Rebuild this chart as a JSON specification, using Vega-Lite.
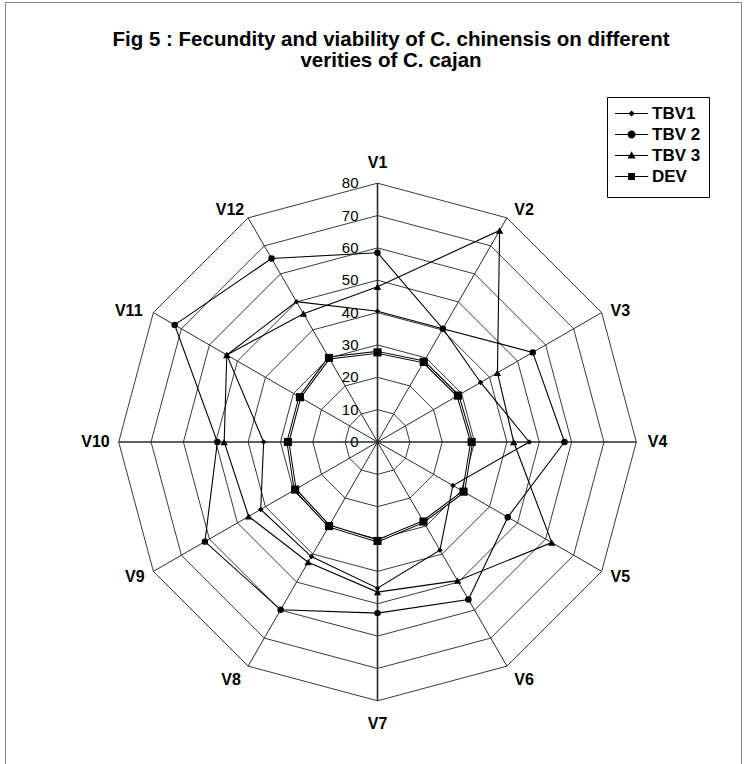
{
  "$schema": "https://vega.github.io/schema/vega-lite/v6.json",
  "width": 736,
  "height": 762,
  "autosize": {"type": "none"},
  "padding": {"left": 5, "top": 2, "right": 7, "bottom": 0},
  "background": "white",
  "config": {"view": {"stroke": "#888", "strokeWidth": 1}, "font": "Liberation Sans"},
  "title": {
    "text": ["Fig 5 : Fecundity and viability of C. chinensis on different", "verities of C. cajan"],
    "font": "Liberation Sans",
    "fontSize": 20.5,
    "fontWeight": "bold",
    "color": "black",
    "anchor": "middle",
    "offset": -69,
    "dx": 18,
    "lineHeight": 21
  },
  "datasets": {
    "series": [
      {"s": "TBV1", "axis": "V1", "v": 40.4}, {"s": "TBV1", "axis": "V2", "v": 40.4}, {"s": "TBV1", "axis": "V3", "v": 36.8}, {"s": "TBV1", "axis": "V4", "v": 46.9},
      {"s": "TBV1", "axis": "V5", "v": 26.9}, {"s": "TBV1", "axis": "V6", "v": 38.6}, {"s": "TBV1", "axis": "V7", "v": 45.2}, {"s": "TBV1", "axis": "V8", "v": 40.9},
      {"s": "TBV1", "axis": "V9", "v": 41.7}, {"s": "TBV1", "axis": "V10", "v": 35.2}, {"s": "TBV1", "axis": "V11", "v": 53.8}, {"s": "TBV1", "axis": "V12", "v": 50.1},
      {"s": "TBV 2", "axis": "V1", "v": 58.5}, {"s": "TBV 2", "axis": "V2", "v": 40.4}, {"s": "TBV 2", "axis": "V3", "v": 55.4}, {"s": "TBV 2", "axis": "V4", "v": 57.8},
      {"s": "TBV 2", "axis": "V5", "v": 46.5}, {"s": "TBV 2", "axis": "V6", "v": 56.2}, {"s": "TBV 2", "axis": "V7", "v": 52.9}, {"s": "TBV 2", "axis": "V8", "v": 59.9},
      {"s": "TBV 2", "axis": "V9", "v": 61.6}, {"s": "TBV 2", "axis": "V10", "v": 49.5}, {"s": "TBV 2", "axis": "V11", "v": 72.4}, {"s": "TBV 2", "axis": "V12", "v": 65.5},
      {"s": "TBV 3", "axis": "V1", "v": 48.0}, {"s": "TBV 3", "axis": "V2", "v": 75.5}, {"s": "TBV 3", "axis": "V3", "v": 42.8}, {"s": "TBV 3", "axis": "V4", "v": 42.1},
      {"s": "TBV 3", "axis": "V5", "v": 62.2}, {"s": "TBV 3", "axis": "V6", "v": 49.5}, {"s": "TBV 3", "axis": "V7", "v": 46.4}, {"s": "TBV 3", "axis": "V8", "v": 42.9},
      {"s": "TBV 3", "axis": "V9", "v": 46.0}, {"s": "TBV 3", "axis": "V10", "v": 47.4}, {"s": "TBV 3", "axis": "V11", "v": 53.8}, {"s": "TBV 3", "axis": "V12", "v": 45.8},
      {"s": "DEV", "axis": "V1", "v": 27.7}, {"s": "DEV", "axis": "V2", "v": 28.6}, {"s": "DEV", "axis": "V3", "v": 28.7}, {"s": "DEV", "axis": "V4", "v": 29.1},
      {"s": "DEV", "axis": "V5", "v": 30.7}, {"s": "DEV", "axis": "V6", "v": 28.4}, {"s": "DEV", "axis": "V7", "v": 30.6}, {"s": "DEV", "axis": "V8", "v": 30.0},
      {"s": "DEV", "axis": "V9", "v": 29.4}, {"s": "DEV", "axis": "V10", "v": 27.7}, {"s": "DEV", "axis": "V11", "v": 27.7}, {"s": "DEV", "axis": "V12", "v": 30.0}
    ],
    "axes": [
      {"axis": "V1", "lv": [10, 20, 30, 40, 50, 60, 70, 80]}, {"axis": "V2", "lv": [10, 20, 30, 40, 50, 60, 70, 80]},
      {"axis": "V3", "lv": [10, 20, 30, 40, 50, 60, 70, 80]}, {"axis": "V4", "lv": [10, 20, 30, 40, 50, 60, 70, 80]},
      {"axis": "V5", "lv": [10, 20, 30, 40, 50, 60, 70, 80]}, {"axis": "V6", "lv": [10, 20, 30, 40, 50, 60, 70, 80]},
      {"axis": "V7", "lv": [10, 20, 30, 40, 50, 60, 70, 80]}, {"axis": "V8", "lv": [10, 20, 30, 40, 50, 60, 70, 80]},
      {"axis": "V9", "lv": [10, 20, 30, 40, 50, 60, 70, 80]}, {"axis": "V10", "lv": [10, 20, 30, 40, 50, 60, 70, 80]},
      {"axis": "V11", "lv": [10, 20, 30, 40, 50, 60, 70, 80]}, {"axis": "V12", "lv": [10, 20, 30, 40, 50, 60, 70, 80]}
    ],
    "levels": [{"lv": 0}, {"lv": 10}, {"lv": 20}, {"lv": 30}, {"lv": 40}, {"lv": 50}, {"lv": 60}, {"lv": 70}, {"lv": 80}]
  },
  "layer": [
    {
      "data": {"name": "axes"},
      "transform": [
        {"flatten": ["lv"]},
        {"calculate": "indexof(['V1','V2','V3','V4','V5','V6','V7','V8','V9','V10','V11','V12'], datum.axis)", "as": "idx"},
        {"calculate": "datum.lv * sin(datum.idx * PI / 6)", "as": "gx"},
        {"calculate": "datum.lv * cos(datum.idx * PI / 6)", "as": "gy"}
      ],
      "mark": {"type": "line", "interpolate": "linear-closed", "stroke": "#3a3a3a", "strokeWidth": 1},
      "encoding": {
        "x": {"field": "gx", "type": "quantitative", "scale": {"domain": [-115.15, 112.36], "nice": false, "zero": false}, "axis": null},
        "y": {"field": "gy", "type": "quantitative", "scale": {"domain": [-99.54, 136.01], "nice": false, "zero": false}, "axis": null},
        "detail": {"field": "lv", "type": "nominal"},
        "order": {"field": "idx", "type": "quantitative"}
      }
    },
    {
      "data": {"name": "axes"},
      "transform": [
        {"calculate": "indexof(['V1','V2','V3','V4','V5','V6','V7','V8','V9','V10','V11','V12'], datum.axis)", "as": "idx"},
        {"calculate": "80 * sin(datum.idx * PI / 6)", "as": "ex"},
        {"calculate": "80 * cos(datum.idx * PI / 6)", "as": "ey"}
      ],
      "mark": {"type": "rule", "stroke": "#2a2a2a"},
      "encoding": {
        "x": {"field": "ex", "type": "quantitative"},
        "y": {"field": "ey", "type": "quantitative"},
        "x2": {"datum": 0},
        "y2": {"datum": 0},
        "strokeWidth": {"condition": {"test": "datum.idx % 3 == 0", "value": 1.6}, "value": 1}
      }
    },
    {
      "data": {"name": "series"},
      "transform": [
        {"filter": "datum.s == 'DEV'"},
        {"calculate": "indexof(['V1','V2','V3','V4','V5','V6','V7','V8','V9','V10','V11','V12'], datum.axis)", "as": "idx"},
        {"calculate": "datum.v * sin(datum.idx * PI / 6)", "as": "px"},
        {"calculate": "datum.v * cos(datum.idx * PI / 6)", "as": "py"}
      ],
      "mark": {"type": "line", "interpolate": "linear-closed", "stroke": "black", "strokeWidth": 3},
      "encoding": {
        "x": {"field": "px", "type": "quantitative"},
        "y": {"field": "py", "type": "quantitative"},
        "order": {"field": "idx", "type": "quantitative"}
      }
    },
    {
      "data": {"name": "series"},
      "transform": [
        {"filter": "datum.s == 'DEV'"},
        {"calculate": "indexof(['V1','V2','V3','V4','V5','V6','V7','V8','V9','V10','V11','V12'], datum.axis)", "as": "idx"},
        {"calculate": "datum.v * sin(datum.idx * PI / 6)", "as": "px"},
        {"calculate": "datum.v * cos(datum.idx * PI / 6)", "as": "py"}
      ],
      "mark": {"type": "line", "interpolate": "linear-closed", "stroke": "white", "strokeWidth": 1},
      "encoding": {
        "x": {"field": "px", "type": "quantitative"},
        "y": {"field": "py", "type": "quantitative"},
        "order": {"field": "idx", "type": "quantitative"}
      }
    },
    {
      "data": {"name": "series"},
      "transform": [
        {"filter": "datum.s != 'DEV'"},
        {"calculate": "indexof(['V1','V2','V3','V4','V5','V6','V7','V8','V9','V10','V11','V12'], datum.axis)", "as": "idx"},
        {"calculate": "datum.v * sin(datum.idx * PI / 6)", "as": "px"},
        {"calculate": "datum.v * cos(datum.idx * PI / 6)", "as": "py"}
      ],
      "mark": {"type": "line", "interpolate": "linear-closed", "stroke": "black", "strokeWidth": 1.1},
      "encoding": {
        "x": {"field": "px", "type": "quantitative"},
        "y": {"field": "py", "type": "quantitative"},
        "detail": {"field": "s", "type": "nominal"},
        "order": {"field": "idx", "type": "quantitative"}
      }
    },
    {
      "data": {"name": "series"},
      "transform": [
        {"calculate": "indexof(['V1','V2','V3','V4','V5','V6','V7','V8','V9','V10','V11','V12'], datum.axis)", "as": "idx"},
        {"calculate": "datum.v * sin(datum.idx * PI / 6)", "as": "px"},
        {"calculate": "datum.v * cos(datum.idx * PI / 6)", "as": "py"}
      ],
      "mark": {"type": "point", "filled": true, "color": "black", "opacity": 1},
      "encoding": {
        "x": {"field": "px", "type": "quantitative"},
        "y": {"field": "py", "type": "quantitative"},
        "shape": {"field": "s", "type": "nominal", "scale": {"domain": ["TBV1", "TBV 2", "TBV 3", "DEV"], "range": ["diamond", "circle", "triangle-up", "square"]}, "legend": null},
        "size": {"field": "s", "type": "nominal", "scale": {"domain": ["TBV1", "TBV 2", "TBV 3", "DEV"], "range": [30, 66, 55, 42]}, "legend": null}
      }
    },
    {
      "data": {"name": "series"},
      "transform": [
        {"filter": "datum.axis == 'V1'"},
        {"calculate": "datum.v * sin(0)", "as": "px"},
        {"calculate": "datum.v * cos(0)", "as": "py"}
      ],
      "mark": {"type": "point", "filled": true, "fill": "black", "opacity": 0, "size": 289},
      "encoding": {
        "x": {"field": "px", "type": "quantitative"},
        "y": {"field": "py", "type": "quantitative"},
        "shape": {
          "field": "s", "type": "nominal",
          "scale": {
            "domain": ["TBV1", "TBV 2", "TBV 3", "DEV"],
            "range": [
              "M-1,-0.065H2.9V0.065H-1ZM0.95,-0.36L1.31,0L0.95,0.36L0.59,0Z",
              "M-1,-0.065H2.9V0.065H-1ZM0.48,0A0.47,0.47,0,1,1,1.42,0A0.47,0.47,0,1,1,0.48,0Z",
              "M-1,-0.065H2.9V0.065H-1ZM0.95,-0.5L1.42,0.34L0.48,0.34Z",
              "M-1,-0.065H2.9V0.065H-1ZM0.55,-0.4H1.35V0.4H0.55Z"
            ]
          },
          "legend": {
            "title": " ",
            "titleOrient": "bottom",
            "titleFontSize": 4,
            "titlePadding": 0,
            "orient": "none",
            "legendX": 602,
            "legendY": 95,
            "padding": 8,
            "strokeColor": "black",
            "fillColor": "white",
            "symbolSize": 289,
            "symbolOpacity": 1,
            "symbolFillColor": "black",
            "symbolStrokeWidth": 0,
            "labelFont": "Liberation Sans",
            "labelFontSize": 17,
            "labelFontWeight": "bold",
            "labelColor": "black",
            "labelOffset": 20,
            "rowPadding": 3
          }
        }
      }
    },
    {
      "data": {"name": "axes"},
      "transform": [
        {"calculate": "indexof(['V1','V2','V3','V4','V5','V6','V7','V8','V9','V10','V11','V12'], datum.axis)", "as": "idx"},
        {"calculate": "sin(datum.idx * PI / 6)", "as": "sn"},
        {"calculate": "cos(datum.idx * PI / 6)", "as": "cs"},
        {"calculate": "abs(datum.sn) < 0.01 ? 0 : (datum.sn > 0 ? 1 : -1)", "as": "sx"},
        {"calculate": "abs(datum.cs) < 0.01 ? 0 : (datum.cs > 0 ? 1 : -1)", "as": "sy"},
        {"calculate": "(263 * datum.sn + datum.sx * ((length(datum.axis) > 2 ? 14 : 10) + 5) + [0, 0, 0, 2, 0, 0, 0, 0, 0, 0, -2, 3][datum.idx]) / 3.235", "as": "lx"},
        {"calculate": "(263 * datum.cs + datum.sy * (abs(datum.cs) > 0.99 ? 17 : 4) + [-1, 0, -5, 0, 0, -6, -2, -6, 0, 0, -5, 0][datum.idx]) / 3.235", "as": "ly"}
      ],
      "mark": {"type": "text", "font": "Liberation Sans", "fontSize": 16, "fontWeight": "bold", "color": "black", "align": "center", "baseline": "middle"},
      "encoding": {
        "x": {"field": "lx", "type": "quantitative"},
        "y": {"field": "ly", "type": "quantitative"},
        "text": {"field": "axis", "type": "nominal"}
      }
    },
    {
      "data": {"name": "levels"},
      "mark": {"type": "text", "font": "Liberation Sans", "fontSize": 15, "color": "black", "align": "right", "baseline": "middle", "dx": -19},
      "encoding": {
        "x": {"datum": 0, "type": "quantitative"},
        "y": {"field": "lv", "type": "quantitative"},
        "text": {"field": "lv", "type": "quantitative"}
      }
    }
  ],
  "resolve": {"scale": {"shape": "independent", "size": "independent"}, "legend": {"shape": "independent"}}
}
